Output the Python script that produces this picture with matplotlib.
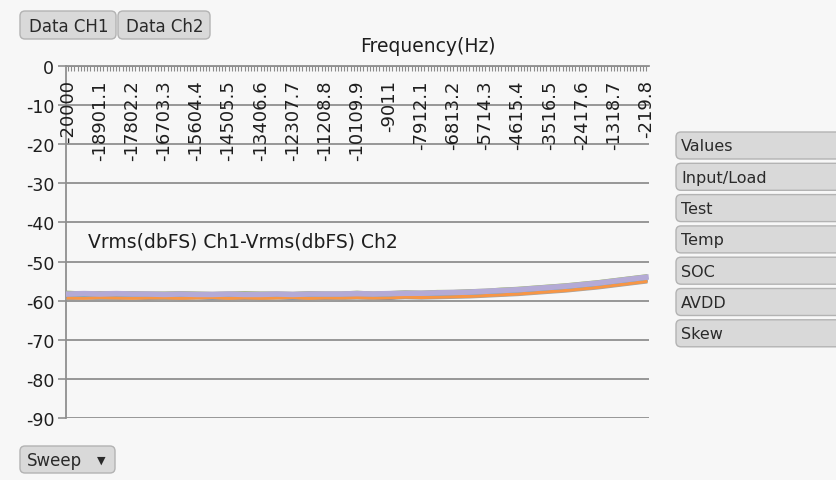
import matplotlib
matplotlib.use("Agg")
import matplotlib.pyplot as plt
import numpy as np
from matplotlib.patches import FancyBboxPatch

plt.rcParams["axes.unicode_minus"] = False

# sweep frequencies (Hz): 181 categories, every 5th one carries a sample below
freq_start = -20000.0
freq_stop = -219.8
n_categories = 181
tick_labels = ["-20000", "-18901.1", "-17802.2", "-16703.3", "-15604.4", "-14505.5",
               "-13406.6", "-12307.7", "-11208.8", "-10109.9", "-9011", "-7912.1",
               "-6813.2", "-5714.3", "-4615.4", "-3516.5", "-2417.6", "-1318.7", "-219.8"]

# Vrms(dbFS) Ch1 - Vrms(dbFS) Ch2, one list per trace
trace_gray = [-59.5, -59.4, -59.5, -59.5, -59.4, -59.5, -59.6, -59.5, -59.4, -59.5,
              -59.5, -59.6, -59.5, -59.4, -59.5, -59.5, -59.6, -59.5, -59.4, -59.5,
              -59.5, -59.3, -59.4, -59.3, -59.2, -59.1, -58.9, -58.7, -58.5, -58.2,
              -57.9, -57.6, -57.2, -56.8, -56.3, -55.8, -55.3]
trace_blue = [-59.0, -59.2, -59.1, -59.1, -59.2, -59.3, -59.2, -59.1, -59.2, -59.3,
              -59.2, -59.3, -59.2, -59.2, -59.3, -59.2, -59.3, -59.2, -59.1, -59.2,
              -59.4, -59.0, -59.1, -59.0, -58.9, -58.6, -58.5, -58.3, -58.0, -57.8,
              -57.5, -57.1, -56.8, -56.3, -55.9, -55.3, -54.8]
trace_aqua = [-59.2, -59.1, -59.2, -59.2, -59.1, -59.2, -59.3, -59.2, -59.2, -59.1,
              -59.2, -59.2, -59.3, -59.1, -59.2, -59.2, -59.1, -59.2, -59.2, -59.1,
              -59.2, -59.0, -59.0, -58.9, -58.8, -58.7, -58.5, -58.3, -58.1, -57.8,
              -57.5, -57.2, -56.8, -56.4, -55.9, -55.4, -54.9]
trace_orange = [-59.3, -59.4, -59.2, -59.3, -59.4, -59.3, -59.3, -59.4, -59.3, -59.2,
                -59.4, -59.3, -59.4, -59.3, -59.2, -59.4, -59.3, -59.3, -59.2, -59.3,
                -59.3, -59.1, -59.2, -59.1, -59.0, -58.9, -58.7, -58.5, -58.3, -58.0,
                -57.7, -57.4, -57.0, -56.6, -56.1, -55.6, -55.1]
trace_green = [-57.8, -58.0, -57.9, -58.0, -57.9, -58.0, -58.0, -57.9, -58.0, -58.1,
               -58.0, -57.9, -58.0, -58.0, -58.1, -57.9, -58.0, -58.0, -57.8, -58.0,
               -57.9, -57.7, -57.8, -57.6, -57.6, -57.4, -57.3, -57.0, -56.8, -56.5,
               -56.2, -55.9, -55.5, -55.1, -54.6, -54.1, -53.6]
trace_lavender = [-58.3, -58.2, -58.3, -58.2, -58.3, -58.3, -58.4, -58.3, -58.4, -58.4,
                  -58.3, -58.4, -58.4, -58.3, -58.4, -58.3, -58.3, -58.3, -58.2, -58.3,
                  -58.2, -58.1, -58.1, -58.0, -57.9, -57.8, -57.6, -57.4, -57.2, -56.9,
                  -56.6, -56.3, -55.9, -55.5, -55.0, -54.5, -54.0]

field_buttons = ["Values", "Input/Load", "Test", "Temp", "SOC", "AVDD", "Skew"]

BG = "#f7f7f7"
GRID = "#8f8f8f"
TEXT = "#1e1e1e"

categories = np.linspace(freq_start, freq_stop, n_categories)
sample_freqs = categories[::5]
label_freqs = categories[::10]

fig = plt.figure(figsize=(8.37, 4.81), dpi=100)
fig.patch.set_facecolor(BG)

W, H = 837, 481
ax = fig.add_axes([66 / W, 1 - 419 / H, 583 / W, 352 / H])
ax.set_facecolor(BG)

traces = [
    (trace_gray, "#a5a5a5", 2.0),
    (trace_blue, "#4f81bd", 2.0),
    (trace_aqua, "#4bacc6", 2.0),
    (trace_orange, "#f79646", 2.2),
    (trace_green, "#9bbb59", 2.0),
    (trace_lavender, "#b4aad6", 4.0),
]
for values, color, lw in traces:
    ax.plot(sample_freqs, values, color=color, lw=lw, solid_joinstyle="round", zorder=3)

hz_per_px = (freq_stop - freq_start) / 578
ax.set_xlim(freq_start - 2 * hz_per_px, freq_stop + 3 * hz_per_px)
ax.set_ylim(-90, 0)

ax.set_yticks(np.arange(-90, 1, 10))
ax.yaxis.grid(True, color=GRID, lw=1.3)
ax.set_axisbelow(True)
ax.tick_params(axis="y", direction="out", length=5.5, width=1.2, color=GRID,
               labelsize=12.5, labelcolor=TEXT, pad=3)

ax.xaxis.tick_top()
ax.set_xticks(categories)
ax.set_xticklabels([])
ax.tick_params(axis="x", direction="in", length=3.8, width=0.8, color="#8a8a8a")

for side in ["right", "bottom"]:
    ax.spines[side].set_visible(False)
for side in ["left", "top"]:
    ax.spines[side].set_color(GRID)
    ax.spines[side].set_linewidth(1.3)

# category labels hang below the top axis line
for f, lab in zip(label_freqs, tick_labels):
    ax.text(f, -3.4, lab, rotation=90, ha="center", va="top", fontsize=13,
            color=TEXT, zorder=4)

ax.text(22 / 583, 1 - (242 - 67) / 352, "Vrms(dbFS) Ch1-Vrms(dbFS) Ch2",
        transform=ax.transAxes, ha="left", va="center", fontsize=13.5, color=TEXT)

# overlay in pixel coordinates for the pivot-field buttons and title
ov = fig.add_axes([0, 0, 1, 1], facecolor="none")
ov.set_xlim(0, W)
ov.set_ylim(H, 0)
ov.axis("off")

ov.text(428, 47, "Frequency(Hz)", ha="center", va="center", fontsize=13.5, color=TEXT)


def button(x0, y0, w, h, label, size=12, pad=8):
    patch = FancyBboxPatch((x0, y0), w, h, boxstyle="round,pad=0,rounding_size=5",
                           facecolor="#d9d9d9", edgecolor="#b3b3b3", lw=1.0)
    ov.add_patch(patch)
    ov.text(x0 + pad, y0 + h / 2 + 0.5, label, ha="left", va="center",
            fontsize=size, color="#2a2a2a")


button(20, 12, 96, 28, "Data CH1", pad=9)
button(118, 12, 92, 28, "Data Ch2", pad=8)
button(20, 447, 95, 27, "Sweep", pad=7)
ov.text(101, 461, "\u25bc", ha="center", va="center", fontsize=8, color="#2a2a2a")

for i, name in enumerate(field_buttons):
    button(676, 133 + i * 31.3, 175, 27, name, size=11.5, pad=5)

fig.savefig("out.png", dpi=100, facecolor=BG)
